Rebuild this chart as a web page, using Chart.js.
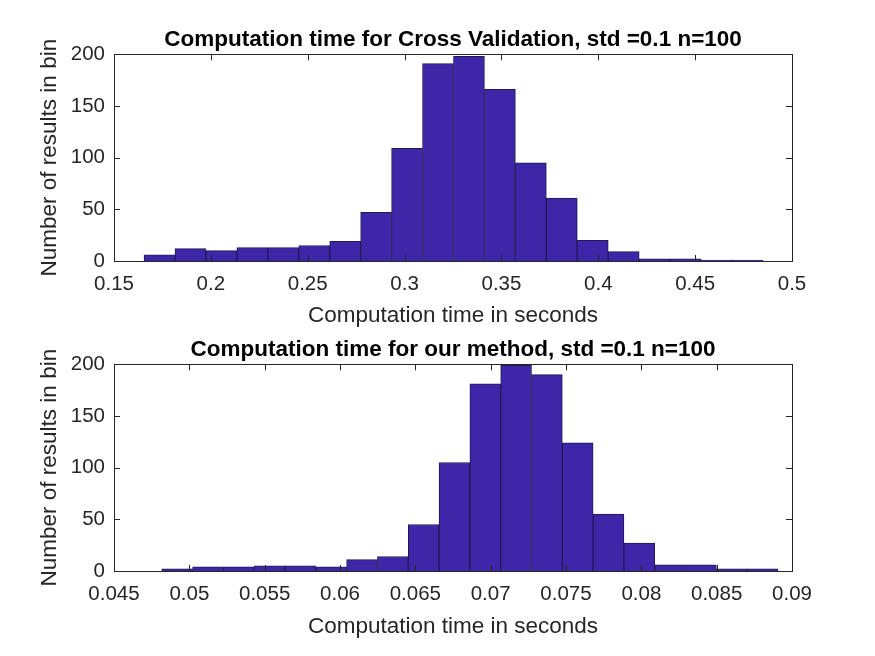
<!DOCTYPE html>
<html>
<head>
<meta charset="utf-8">
<script src="https://cdn.jsdelivr.net/npm/chart.js@4.4.1/dist/chart.umd.min.js"></script>
<style>
  body { margin: 0; background: #fff; }
  #wrap { position: relative; width: 875px; height: 656px; background: #fff; }
  .cv { position: absolute; left: 0; }
</style>
</head>
<body>
<div id="wrap">
  <canvas id="top" class="cv" style="top:0px"></canvas>
  <canvas id="bottom" class="cv" style="top:310px"></canvas>
</div>
<script>
// histogram counts
const cvCounts = [6, 12, 10, 13, 13, 15, 19, 47, 109, 191, 198, 166, 95, 61, 20, 9, 2, 2, 1, 1];
const cvBinStart = 0.1655;
const cvBinWidth = 0.015975;
const cvTicks = [0.15, 0.2, 0.25, 0.3, 0.35, 0.4, 0.45, 0.5];

const ourCounts = [2, 4, 4, 5, 5, 4, 11, 14, 45, 105, 181, 199, 190, 124, 55, 27, 6, 6, 2, 2];
const ourBinStart = 0.04817;
const ourBinWidth = 0.002045;
const ourTicks = [0.045, 0.05, 0.055, 0.06, 0.065, 0.07, 0.075, 0.08, 0.085, 0.09];

const countTicks = [0, 50, 100, 150, 200];

const FONT = '"Liberation Sans", Arial, Helvetica, sans-serif';
const AXIS_COL = '#262626';

// MATLAB style box with inward ticks
const boxPlugin = {
    id: 'box',
    afterDraw(chart) {
        const ctx = chart.ctx, a = chart.chartArea;
        const xs = chart.scales.x, ys = chart.scales.y;
        ctx.save();
        ctx.strokeStyle = AXIS_COL;
        ctx.lineWidth = 1;
        ctx.strokeRect(Math.round(a.left) + 0.5, Math.round(a.top) + 0.5,
                       Math.round(a.right - a.left), Math.round(a.bottom - a.top));
        ctx.beginPath();
        xs.ticks.forEach(t => {
            const px = Math.round(xs.getPixelForValue(t.value)) + 0.5;
            ctx.moveTo(px, a.bottom); ctx.lineTo(px, a.bottom - 6);
            ctx.moveTo(px, a.top); ctx.lineTo(px, a.top + 6);
        });
        ys.ticks.forEach(t => {
            const py = Math.round(ys.getPixelForValue(t.value)) + 0.5;
            ctx.moveTo(a.left, py); ctx.lineTo(a.left + 6, py);
            ctx.moveTo(a.right, py); ctx.lineTo(a.right - 6, py);
        });
        ctx.stroke();
        ctx.restore();
    }
};

function fmt(v) {
    return String(Number(v.toFixed(4)));
}

function makeHist(id, h, counts, binStart, binWidth, xTicks, title, xTitlePad) {
    const canvas = document.getElementById(id);
    canvas.width = 875;
    canvas.height = h;
    canvas.style.width = '875px';
    canvas.style.height = h + 'px';

    const pts = counts.map((c, i) => ({ x: binStart + (i + 0.5) * binWidth, y: c }));
    const xmin = xTicks[0], xmax = xTicks[xTicks.length - 1];

    return new Chart(canvas, {
        type: 'bar',
        data: {
            datasets: [{
                data: pts,
                backgroundColor: '#3d26a8',
                borderColor: '#221a55',
                borderWidth: 1,
                barPercentage: 1,
                categoryPercentage: 1
            }]
        },
        plugins: [boxPlugin],
        options: {
            responsive: false,
            animation: false,
            layout: { padding: { left: 0, right: 83, top: 0, bottom: 0 } },
            plugins: {
                legend: { display: false },
                tooltip: { enabled: false },
                title: {
                    display: true,
                    fullSize: false,
                    text: title,
                    color: '#000',
                    font: { family: FONT, size: 22.5, weight: 'bold' },
                    padding: { top: 26, bottom: 1.3 }
                }
            },
            scales: {
                x: {
                    type: 'linear',
                    min: xmin,
                    max: xmax,
                    offset: false,
                    grid: { display: false, drawTicks: false },
                    border: { display: false },
                    afterBuildTicks(s) { s.ticks = xTicks.map(v => ({ value: v })); },
                    ticks: {
                        color: AXIS_COL,
                        font: { family: FONT, size: 20.5 },
                        padding: 11,
                        maxRotation: 0,
                        autoSkip: false,
                        callback: v => fmt(v)
                    },
                    title: {
                        display: true,
                        text: 'Computation time in seconds',
                        color: AXIS_COL,
                        font: { family: FONT, size: 22.5 },
                        padding: { top: 0, bottom: xTitlePad }
                    },
                    afterFit(s) {
                        s.height = h - 261;
                        s.paddingLeft = 0; s.paddingRight = 0;
                    }
                },
                y: {
                    min: 0,
                    max: 200,
                    grid: { display: false, drawTicks: false },
                    border: { display: false },
                    afterBuildTicks(s) { s.ticks = countTicks.map(v => ({ value: v })); },
                    ticks: {
                        color: AXIS_COL,
                        font: { family: FONT, size: 20.5 },
                        padding: 9
                    },
                    title: {
                        display: true,
                        text: 'Number of results in bin',
                        color: AXIS_COL,
                        font: { family: FONT, size: 22.5 },
                        padding: { top: 36.5, bottom: 0 }
                    },
                    afterFit(s) {
                        s.width = 114;
                        s.paddingTop = 0; s.paddingBottom = 0;
                    }
                }
            }
        }
    });
}

makeHist('top', 340, cvCounts, cvBinStart, cvBinWidth, cvTicks,
    'Computation time for Cross Validation, std =0.1 n=100', 10.5);
makeHist('bottom', 346, ourCounts, ourBinStart, ourBinWidth, ourTicks,
    'Computation time for our method, std =0.1 n=100', 15.5);
</script>
</body>
</html>
